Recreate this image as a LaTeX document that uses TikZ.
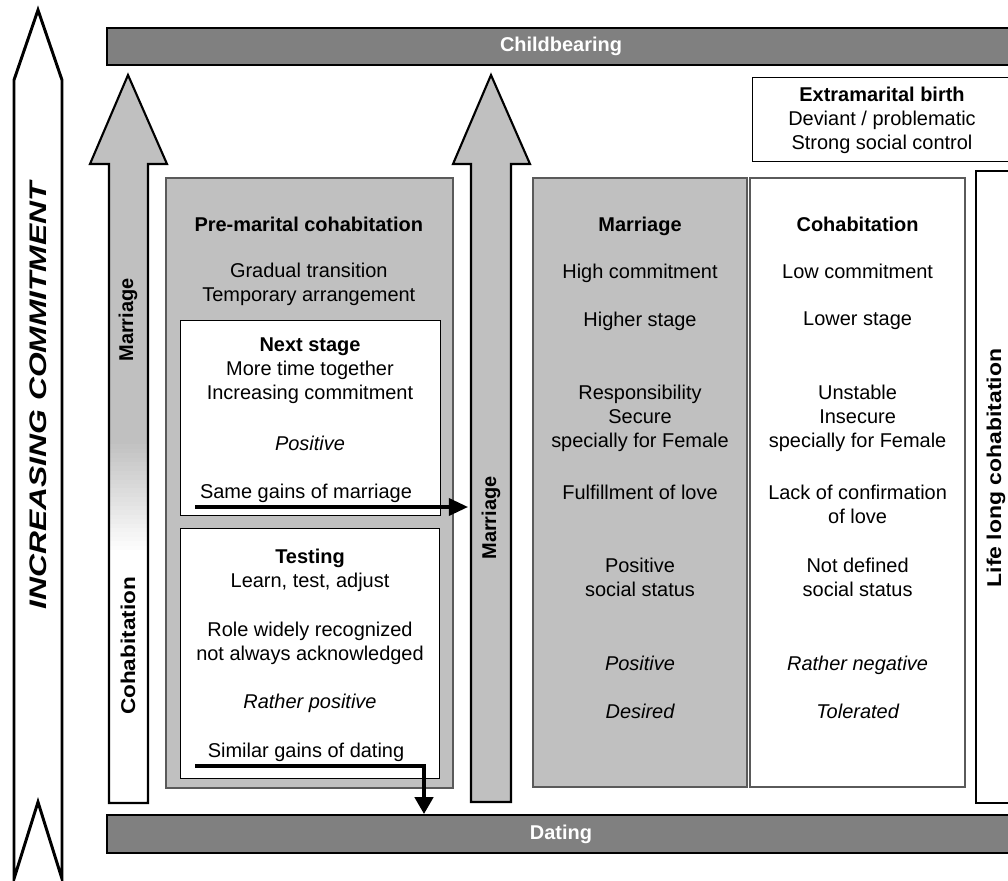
\documentclass[tikz,border=0pt]{standalone}
\usepackage{fontspec}
\setmainfont{Liberation Sans}
\usetikzlibrary{arrows.meta}

\definecolor{bardark}{HTML}{808080}
\definecolor{boxgray}{HTML}{C0C0C0}
\definecolor{edgegray}{HTML}{5A5A5A}

\tikzset{
	txt/.style={align=center, inner sep=0pt, font=\fontsize{14.2}{17}\selectfont},
	head/.style={align=center, inner sep=0pt, font=\fontsize{14.2}{17}\selectfont\bfseries},
	bar/.style={draw, line width=1.5pt, fill=bardark, text=white, inner sep=0pt,
		minimum width=22.7cm, font=\fontsize{14.2}{17}\selectfont\bfseries},
	gainline/.style={line width=2.3pt}
}

\begin{document}
\begin{tikzpicture}
	\useasboundingbox (0,0) rectangle (25.2,-22.025);
	% commitment axis
	\draw[line width=2.1pt, fill=white] (0.95,-0.25) -- (1.55,-2) -- (1.55,-21.97) -- (0.95,-20.05)
		-- (0.35,-21.97) -- (0.35,-2) -- cycle;
	\node[head, font=\fontsize{17}{20}\selectfont\bfseries\itshape, rotate=90] (commit) at (0.95,-9.89)
		{\scalebox{1.33}[1]{INCREASING COMMITMENT}};
	% top and bottom bars
	\node[bar, minimum height=0.925cm] (childbearing) at (14.025,-1.1625) {Childbearing};
	\node[bar, minimum height=0.95cm] (dating) at (14.025,-20.85) {Dating};
	
	% cohabitation turning into marriage
	\fill[boxgray] (3.2,-1.875) -- (4.175,-4.1) -- (3.7,-4.1) -- (3.7,-20.075) -- (2.725,-20.075)
		-- (2.725,-4.1) -- (2.25,-4.1) -- cycle;
	\foreach \i in {0,...,24}{
		\pgfmathsetmacro\fadeval{100-\i*4}
		\fill[boxgray!\fadeval!white] (2.725,{-11-\i*0.11}) rectangle (3.7,{-11-(\i+1)*0.11-0.01});
	}
	\fill[white] (2.725,-13.75) rectangle (3.7,-20.075);
	\draw[line width=1.5pt] (3.2,-1.875) -- (4.175,-4.1) -- (3.7,-4.1) -- (3.7,-20.075) -- (2.725,-20.075)
		-- (2.725,-4.1) -- (2.25,-4.1) -- cycle;
	\node[head, rotate=90] (leftmarriage) at (3.2,-8) {Marriage};
	\node[head, rotate=90] (leftcohab) at (3.2,-16.15) {\scalebox{1.13}[1]{Cohabitation}};
	
	% marriage in the middle
	\draw[line width=1.5pt, fill=boxgray] (12.275,-1.875) -- (13.25,-4.1) -- (12.775,-4.1) -- (12.775,-20.05)
		-- (11.775,-20.05) -- (11.775,-4.1) -- (11.325,-4.1) -- cycle;
	\node[head, rotate=90] (midmarriage) at (12.275,-12.95) {Marriage};
	
	% pre-marital cohabitation
	\draw[edgegray, line width=0.8pt, fill=boxgray] (4.15,-4.45) rectangle (11.325,-19.7);
	\node[head] (premarital) at (7.72,-5.6) {Pre-marital cohabitation};
	\node[txt] (gradual) at (7.72,-7.1) {Gradual transition\\Temporary arrangement};
	
	\draw[line width=0.6pt, fill=white] (4.5,-8) rectangle (11,-12.875);
	\node[txt] (nextstage) at (7.75,-9.275) {\textbf{Next stage}\\More time together\\Increasing commitment};
	\node[txt, font=\fontsize{14.2}{17}\selectfont\itshape] (nextpos) at (7.75,-11.075) {Positive};
	\node[txt] (samegains) at (7.65,-12.325) {Same gains of marriage};
	
	\draw[line width=0.6pt, fill=white] (4.5,-13.2) rectangle (10.975,-19.45);
	\node[txt] (testing) at (7.75,-14.25) {\textbf{Testing}\\Learn, test, adjust};
	\node[txt] (role) at (7.75,-16.075) {Role widely recognized\\not always acknowledged};
	\node[txt, font=\fontsize{14.2}{17}\selectfont\itshape] (ratherpos) at (7.75,-17.575) {Rather positive};
	\node[txt] (similargains) at (7.65,-18.8) {Similar gains of dating};
	
	% gains
	\coordinate (marrgain) at (4.875,-12.675);
	\coordinate (midshaft) at (11.7,-12.675);
	\draw[gainline, -{Triangle[length=0.48cm,width=0.43cm]}] (marrgain) -- (midshaft);
	\coordinate (dategain) at (4.875,-19.15);
	\coordinate (datedrop) at (10.6,-19.15);
	\draw[gainline, -{Triangle[length=0.42cm,width=0.46cm]}] (dategain) -- (datedrop) -- (datedrop |- dating.north);
	
	% marriage and cohabitation compared
	\draw[edgegray, line width=1.2pt, fill=boxgray] (13.325,-4.45) rectangle (18.675,-19.675);
	\draw[edgegray, line width=1.2pt, fill=white] (18.75,-4.45) rectangle (24.125,-19.675);
	
	\node[head] (marriage) at (16,-5.65) {Marriage};
	\node[txt] (highcommit) at (16,-6.825) {High commitment};
	\node[txt] (higher) at (16,-8.025) {Higher stage};
	\node[txt] (secure) at (16,-10.45) {Responsibility\\Secure\\specially for Female};
	\node[txt] (fulfil) at (16,-12.3) {Fulfillment of love};
	\node[txt] (posstatus) at (16,-14.425) {Positive\\social status};
	\node[txt, font=\fontsize{14.2}{17}\selectfont\itshape] (marrpos) at (16,-16.575) {Positive};
	\node[txt, font=\fontsize{14.2}{17}\selectfont\itshape] (desired) at (16,-17.775) {Desired};
	
	\node[head] (cohab) at (21.44,-5.6) {Cohabitation};
	\node[txt] (lowcommit) at (21.44,-6.775) {Low commitment};
	\node[txt] (lower) at (21.44,-8.025) {Lower stage};
	\node[txt] (insecure) at (21.44,-10.45) {Unstable\\Insecure\\specially for Female};
	\node[txt] (lacklove) at (21.44,-12.6) {Lack of confirmation\\of love};
	\node[txt] (nostatus) at (21.44,-14.425) {Not defined\\social status};
	\node[txt, font=\fontsize{14.2}{17}\selectfont\itshape] (cohabneg) at (21.44,-16.625) {Rather negative};
	\node[txt, font=\fontsize{14.2}{17}\selectfont\itshape] (tolerated) at (21.44,-17.775) {Tolerated};
	
	% extramarital birth
	\draw[line width=0.6pt, fill=white] (18.8,-1.925) rectangle (25.4,-4.025);
	\node[txt] (extramarital) at (22.05,-3.0) {\textbf{Extramarital birth}\\Deviant / problematic\\Strong social control};
	
	% life long cohabitation
	\draw[line width=2.1pt] (24.4,-4.275) rectangle (25.6,-20.075);
	\node[head, rotate=90] (lifelong) at (24.9,-11.7) {\scalebox{1.15}[1]{Life long cohabitation}};
\end{tikzpicture}
\end{document}
